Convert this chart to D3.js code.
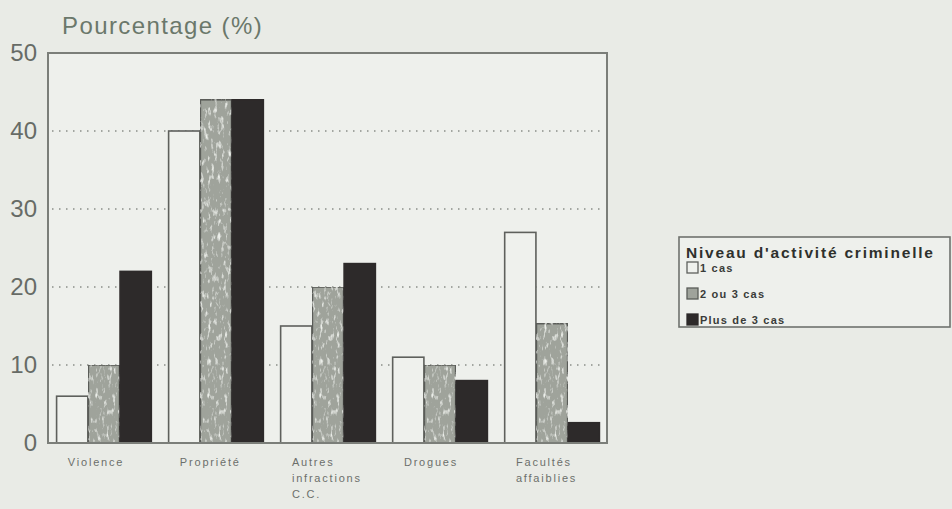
<!DOCTYPE html>
<html>
<head>
<meta charset="utf-8">
<script src="https://cdn.jsdelivr.net/npm/d3@7/dist/d3.min.js"></script>
<style>
  html, body { margin: 0; padding: 0; background: #e9ebe6; }
  svg { display: block; font-family: "Liberation Sans", Arial, sans-serif; }
</style>
</head>
<body>
<svg id="chart" width="952" height="509"></svg>
<script>
// Catégories d'infractions (libellés sur plusieurs lignes)
const categories = ["Violence", "Propriété", "Autres infractions C.C.", "Drogues", "Facultés affaiblies"];
const categoryLines = [["Violence"], ["Propriété"], ["Autres", "infractions", "C.C."], ["Drogues"], ["Facultés", "affaiblies"]];

// Niveau d'activité criminelle
const seriesNames = ["1 cas", "2 ou 3 cas", "Plus de 3 cas"];
const unCas = [6, 40, 15, 11, 27];
const deuxOuTroisCas = [10, 44, 20, 10, 15.3];
const plusDeTroisCas = [22, 44, 23, 8, 2.6];

const yTicks = [0, 10, 20, 30, 40, 50];
const gridTicks = [10, 20, 30, 40];

const seriesValues = [unCas, deuxOuTroisCas, plusDeTroisCas];
const rows = categories.map((c, i) => ({
  cat: c,
  values: seriesNames.map((s, j) => ({ key: s, value: seriesValues[j][i] }))
}));

const svg = d3.select("#chart");
const plot = { left: 48, right: 607, top: 53, bottom: 443 };

const defs = svg.append("defs");
// Trame grenue des barres grises
const grain = defs.append("filter").attr("id", "grain")
  .attr("x", 0).attr("y", 0).attr("width", 1).attr("height", 1);
grain.append("feTurbulence").attr("type", "fractalNoise")
  .attr("baseFrequency", "0.3 0.12").attr("numOctaves", 3).attr("seed", 11).attr("result", "noise");
grain.append("feColorMatrix").attr("in", "noise").attr("type", "matrix")
  .attr("values", "0 0 0 0 0.83  0 0 0 0 0.85  0 0 0 0 0.81  0 0 0 3.4 -1.85")
  .attr("result", "spots");
grain.append("feComposite").attr("in", "spots").attr("in2", "SourceGraphic").attr("operator", "in").attr("result", "clipped");
const merge = grain.append("feMerge");
merge.append("feMergeNode").attr("in", "SourceGraphic");
merge.append("feMergeNode").attr("in", "clipped");

const x0 = d3.scaleBand().domain(categories)
  .range([plot.left, plot.right]).paddingInner(0.15).paddingOuter(0.07);
const x1 = d3.scaleBand().domain(seriesNames).range([0, x0.bandwidth()]);
const y = d3.scaleLinear().domain([0, 50]).range([plot.bottom, plot.top]);

const fills = d3.scaleOrdinal().domain(seriesNames).range(["#eff1ed", "#9fa39b", "#2d2a2a"]);
const strokes = d3.scaleOrdinal().domain(seriesNames).range(["#5e605c", "#5a5c58", "#2d2a2a"]);

// Zone du graphique
svg.append("rect")
  .attr("x", plot.left).attr("y", plot.top)
  .attr("width", plot.right - plot.left).attr("height", plot.bottom - plot.top)
  .attr("fill", "#eef0ec");

// Lignes de quadrillage pointillées
svg.append("g").selectAll("line").data(gridTicks).join("line")
  .attr("x1", plot.left + 4).attr("x2", plot.right - 4)
  .attr("y1", d => y(d)).attr("y2", d => y(d))
  .attr("stroke", "#8a8d88").attr("stroke-width", 1.3)
  .attr("stroke-dasharray", "1.5,5.5");

// Barres groupées
const groups = svg.append("g").selectAll("g").data(rows).join("g")
  .attr("transform", d => `translate(${x0(d.cat)},0)`);
groups.selectAll("rect").data(d => d.values).join("rect")
  .attr("x", d => x1(d.key) + 0.75)
  .attr("y", d => y(d.value))
  .attr("width", x1.bandwidth() - 0.5)
  .attr("height", d => y(0) - y(d.value))
  .attr("fill", d => fills(d.key))
  .attr("stroke", d => strokes(d.key))
  .attr("stroke-width", 1.6)
  .attr("filter", d => d.key === seriesNames[1] ? "url(#grain)" : null);

// Cadre
svg.append("rect")
  .attr("x", plot.left).attr("y", plot.top)
  .attr("width", plot.right - plot.left).attr("height", plot.bottom - plot.top)
  .attr("fill", "none").attr("stroke", "#7b7e79").attr("stroke-width", 2);

// Axe vertical : étiquettes seulement
const yAxis = d3.axisLeft(y).tickValues(yTicks).tickSize(0).tickPadding(11).tickFormat(d3.format("d"));
const gy = svg.append("g").attr("transform", `translate(${plot.left},0)`).call(yAxis);
gy.select(".domain").remove();
gy.selectAll("text")
  .style("font-family", "'Liberation Sans', Arial, sans-serif")
  .attr("font-size", 24).attr("fill", "#676b66");

// Axe horizontal : libellés alignés à gauche, sur plusieurs lignes
const xAxis = d3.axisBottom(x0).tickSize(0).tickFormat("");
const gx = svg.append("g").attr("transform", `translate(0,${plot.bottom})`).call(xAxis);
gx.select(".domain").remove();
gx.selectAll(".tick").each(function(d, i) {
  const t = d3.select(this).append("text")
    .attr("x", -x0.bandwidth() / 2 + 12)
    .attr("y", 23)
    .attr("text-anchor", "start")
    .style("font-family", "'Liberation Sans', Arial, sans-serif")
    .attr("font-size", 11).attr("letter-spacing", 1.8)
    .attr("fill", "#6c6f6b");
  categoryLines[i].forEach((line, k) => {
    t.append("tspan").attr("x", -x0.bandwidth() / 2 + 12).attr("dy", k === 0 ? 0 : 16).text(line);
  });
});

// Titre de l'axe
svg.append("text")
  .attr("x", 62).attr("y", 34)
  .attr("font-size", 24).attr("letter-spacing", 1.4)
  .attr("fill", "#6b786b")
  .text("Pourcentage (%)");

// Légende
const legend = svg.append("g").attr("transform", "translate(679,237)");
legend.append("rect")
  .attr("x", 0).attr("y", 0).attr("width", 271).attr("height", 90)
  .attr("fill", "#eef0ec").attr("stroke", "#6f726e").attr("stroke-width", 1.6);
legend.append("text")
  .attr("x", 7).attr("y", 21)
  .attr("font-size", 15.5).attr("font-weight", "bold").attr("letter-spacing", 1.8)
  .attr("fill", "#2e302d")
  .text("Niveau d'activité criminelle");
const items = legend.selectAll("g.item").data(seriesNames).join("g")
  .attr("class", "item")
  .attr("transform", (d, i) => `translate(8,${25 + i * 26})`);
items.append("rect")
  .attr("width", 11).attr("height", 11)
  .attr("fill", d => fills(d)).attr("stroke", d => strokes(d)).attr("stroke-width", 1.3);
items.append("text")
  .attr("x", 13).attr("y", 10)
  .attr("font-size", 11).attr("font-weight", "bold").attr("letter-spacing", 1.2)
  .attr("fill", "#3a3c39")
  .text(d => d);
</script>
</body>
</html>
